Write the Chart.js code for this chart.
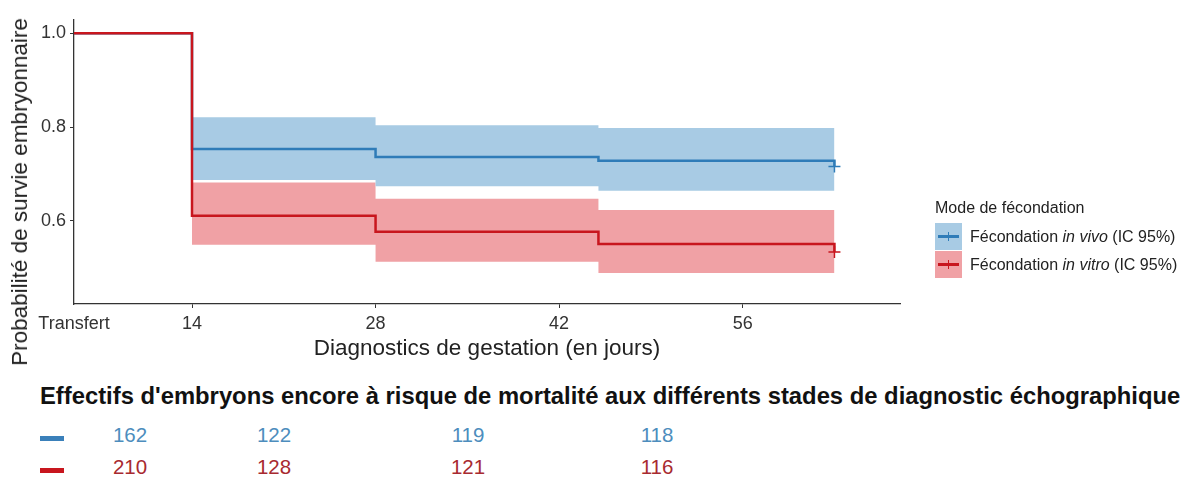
<!DOCTYPE html>
<html lang="fr">
<head>
<meta charset="utf-8">
<script src="https://cdn.jsdelivr.net/npm/chart.js@4.4.1/dist/chart.umd.min.js"></script>
<style>
  body { margin: 0; background: #fff; font-family: "Liberation Sans", Arial, sans-serif; }
  #wrap { position: relative; width: 1193px; height: 478px; overflow: hidden; }
  #survie { position: absolute; left: 0; top: 0; }
  #ytitle {
    position: absolute; left: 20px; top: 192px; font-size: 22.5px; color: #222;
    white-space: nowrap; transform: translate(-50%, -50%) rotate(-90deg);
  }
  #legende { position: absolute; left: 935px; top: 196px; font-size: 16px; color: #222; }
  .leg-titre { height: 27px; line-height: 24px; }
  .leg-item { position: relative; height: 28px; line-height: 28px; padding-left: 35px; white-space: nowrap; }
  .cle { position: absolute; left: 0; top: 0; width: 27px; height: 27px; }
  .cle i { position: absolute; left: 3px; right: 3px; top: 12px; height: 2.5px; }
  .cle b { position: absolute; left: 12.5px; top: 9px; width: 1.5px; height: 9px; }
  #risque-titre {
    position: absolute; left: 40px; top: 382px; font-size: 23.8px; font-weight: bold;
    color: #111; white-space: nowrap;
  }
  .marque { position: absolute; width: 24px; height: 5px; }
  .effectif { position: absolute; font-size: 20.5px; transform: translate(-50%, -50%); }
</style>
</head>
<body>
<div id="wrap">
  <canvas id="survie" width="1193" height="370"></canvas>
  <div id="ytitle">Probabilité de survie embryonnaire</div>
  <div id="legende">
    <div class="leg-titre">Mode de fécondation</div>
    <div class="leg-item"><span class="cle" id="cle-vivo"><i></i><b></b></span>Fécondation <em>in vivo</em> (IC 95%)</div>
    <div class="leg-item"><span class="cle" id="cle-vitro"><i></i><b></b></span>Fécondation <em>in vitro</em> (IC 95%)</div>
  </div>
  <div id="risque-titre">Effectifs d'embryons encore à risque de mortalité aux différents stades de diagnostic échographique</div>
  <div id="risque"></div>
</div>
<script>
// axe des jours : le transfert est placé au début de l'axe
const tickJours = [5, 14, 28, 42, 56];
const tickLabels = ['Transfert', '14', '28', '42', '56'];

// courbes de Kaplan-Meier
const joursEvenements = [5, 14, 28, 45, 63];
const survieInVivo = [1.0, 0.753, 0.736, 0.728, 0.716];
const survieInVitro = [1.0, 0.611, 0.577, 0.551, 0.534];

// intervalles de confiance à 95 %
const joursIC = [14, 28, 45, 63];
const icHautInVivo = [0.821, 0.804, 0.798, 0.798];
const icBasInVivo = [0.687, 0.674, 0.664, 0.664];
const icHautInVitro = [0.682, 0.647, 0.623, 0.623];
const icBasInVitro = [0.549, 0.513, 0.489, 0.489];

// effectifs à risque
const risqueInVivo = [162, 122, 119, 118];
const risqueInVitro = [210, 128, 121, 116];

const bleu = '#2f7cb8';
const bleuClair = '#a8cbe4';
const rouge = '#c8161e';
const rougeClair = '#f0a1a5';

const points = (xs, ys) => xs.map((x, i) => ({ x: x, y: ys[i] }));
const dernier = n => Array.from({ length: n }, (_, i) => (i === n - 1 ? 6 : 0));

// 'before' : palier horizontal puis chute verticale au point suivant
function bande(haut, bas, couleur, ordre) {
  return [
    { data: points(joursIC, haut), stepped: 'before', borderWidth: 0, pointRadius: 0,
      backgroundColor: couleur, fill: '+1', order: ordre },
    { data: points(joursIC, bas), stepped: 'before', borderWidth: 0, pointRadius: 0,
      fill: false, order: ordre }
  ];
}

function courbe(survie, couleur, ordre) {
  return {
    data: points(joursEvenements, survie), stepped: 'before', borderColor: couleur,
    borderWidth: 2.5, fill: false, order: ordre,
    pointStyle: 'cross', pointRadius: dernier(survie.length),
    pointBorderColor: couleur, pointBorderWidth: 1.5
  };
}

const axe = '#333';

new Chart(document.getElementById('survie'), {
  type: 'line',
  data: {
    datasets: [
      courbe(survieInVitro, rouge, 0),
      courbe(survieInVivo, bleu, 1),
      ...bande(icHautInVivo, icBasInVivo, bleuClair, 2),
      ...bande(icHautInVitro, icBasInVitro, rougeClair, 3)
    ]
  },
  options: {
    responsive: false,
    animation: false,
    layout: { padding: { top: 20, right: 293, left: 0, bottom: 0 } },
    plugins: { legend: { display: false }, tooltip: { enabled: false } },
    scales: {
      x: {
        type: 'linear', min: 5, max: 68,
        afterBuildTicks: s => { s.ticks = tickJours.map(v => ({ value: v })); },
        afterFit: s => { s.height = 66; },
        border: { color: axe, width: 1.3 },
        grid: {
          drawOnChartArea: false, tickLength: 4,
          color: c => (c.index === 0 ? 'rgba(0,0,0,0)' : axe)
        },
        ticks: {
          padding: 5, color: axe, maxRotation: 0,
          font: { family: '"Liberation Sans", Arial', size: 18 },
          callback: v => tickLabels[tickJours.indexOf(v)]
        },
        title: {
          display: true, text: 'Diagnostics de gestation (en jours)', color: '#222',
          font: { family: '"Liberation Sans", Arial', size: 22.5 },
          padding: { top: 0, bottom: 8 }
        }
      },
      y: {
        min: 0.423, max: 1.028,
        afterBuildTicks: s => { s.ticks = [0.6, 0.8, 1.0].map(v => ({ value: v })); },
        afterFit: s => { s.width = 74; },
        border: { color: axe, width: 1.3 },
        grid: { drawOnChartArea: false, tickLength: 4, color: axe },
        ticks: {
          padding: 4, color: axe,
          font: { family: '"Liberation Sans", Arial', size: 18 },
          callback: v => v.toFixed(1)
        }
      }
    }
  }
});

// clés de la légende
[['cle-vivo', bleuClair, bleu], ['cle-vitro', rougeClair, rouge]].forEach(([id, fond, trait]) => {
  const el = document.getElementById(id);
  el.style.background = fond;
  el.querySelector('i').style.background = trait;
  el.querySelector('b').style.background = trait;
});

// tableau des effectifs à risque
const colonnesX = [130, 274, 468, 657];
const lignes = [
  { valeurs: risqueInVivo, marque: '#3a80ba', texte: '#4d8dbd', y: 435 },
  { valeurs: risqueInVitro, marque: rouge, texte: '#a82a30', y: 467 }
];
const zone = document.getElementById('risque');
lignes.forEach(l => {
  const m = document.createElement('div');
  m.className = 'marque';
  m.style.left = '40px';
  m.style.top = (l.y + 1) + 'px';
  m.style.background = l.marque;
  zone.appendChild(m);
  l.valeurs.forEach((v, i) => {
    const t = document.createElement('div');
    t.className = 'effectif';
    t.textContent = v;
    t.style.left = colonnesX[i] + 'px';
    t.style.top = l.y + 'px';
    t.style.color = l.texte;
    zone.appendChild(t);
  });
});
</script>
</body>
</html>
